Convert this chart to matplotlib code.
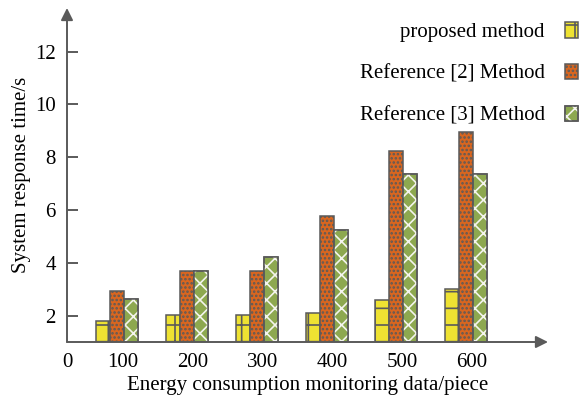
import matplotlib
matplotlib.use('Agg')
import matplotlib.pyplot as plt
import numpy as np
from matplotlib.legend_handler import HandlerTuple

plt.rcParams['font.family'] = ['Liberation Serif', 'DejaVu Serif']
plt.rcParams['hatch.linewidth'] = 1.2

# data
categories = ['100', '200', '300', '400', '500', '600']
proposed = [1.78, 2.04, 2.04, 2.10, 2.60, 3.01]
ref2 = [2.95, 3.68, 3.68, 5.79, 8.22, 8.96]
ref3 = [2.62, 3.68, 4.21, 5.26, 7.38, 7.38]
labels = ['proposed method', 'Reference [2] Method', 'Reference [3] Method']

edge = '#5a5a5a'
c_yellow = '#EEE232'
c_orange = '#D9661F'
c_green = '#8DA84F'
fs = 15

fig = plt.figure(figsize=(5.8, 4), dpi=100)
ax = fig.add_axes([67 / 580, 1 - 342 / 400, (548 - 67) / 580, (342 - 8) / 400])

x = np.arange(1, len(categories) + 1)
w = 0.2
base = 1.0

b1 = ax.bar(x - w, np.array(proposed) - base, w, bottom=base, color=c_yellow,
            edgecolor=edge, linewidth=1.1, hatch='+')
b2 = ax.bar(x, np.array(ref2) - base, w, bottom=base, color=c_orange,
            edgecolor=edge, linewidth=1.1, hatch='....')
b3 = ax.bar(x + w, np.array(ref3) - base, w, bottom=base, color=c_green,
            edgecolor=edge, linewidth=1.1)
b3h = ax.bar(x + w, np.array(ref3) - base, w, bottom=base, fill=False,
             edgecolor='#f4f4ee', linewidth=0, hatch='xx')
# outline again on top of the white hatch
b3o = ax.bar(x + w, np.array(ref3) - base, w, bottom=base, fill=False,
             edgecolor=edge, linewidth=1.1)

ax.set_xlim(0.284, 7.17)
ax.set_ylim(base, 13.65)

for s in ['top', 'right', 'left', 'bottom']:
    ax.spines[s].set_visible(False)

# arrow axes
ax.annotate('', xy=(0, 1), xytext=(0, 0), xycoords='axes fraction',
            arrowprops=dict(arrowstyle='-|>', color=edge, lw=1.4,
                            mutation_scale=18, shrinkA=0, shrinkB=0))
ax.annotate('', xy=(1, 0), xytext=(0, 0), xycoords='axes fraction',
            arrowprops=dict(arrowstyle='-|>', color=edge, lw=1.4,
                            mutation_scale=18, shrinkA=0, shrinkB=0))

ax.set_yticks([2, 4, 6, 8, 10, 12])
ax.tick_params(axis='y', direction='in', length=8, width=1.4, color=edge,
               labelsize=fs, pad=8)
ax.set_xticks(list(x + 0.08) + [0.284])
ax.set_xticklabels(categories + ['0'])
ax.tick_params(axis='x', length=0, labelsize=fs, pad=8)

ax.set_xlabel('Energy consumption monitoring data/piece', fontsize=fs, labelpad=3)
ax.set_ylabel('System response time/s', fontsize=fs, labelpad=3)

fig.legend([b1, b2, (b3, b3h, b3o)], labels, loc='upper right',
           bbox_to_anchor=(1.011, 0.965), frameon=False, markerfirst=False,
           fontsize=fs, handlelength=0.65, handleheight=0.75,
           labelspacing=1.05, handletextpad=0.95, borderaxespad=0,
           handler_map={tuple: HandlerTuple(ndivide=1, pad=0)})

fig.savefig('out.png', dpi=100)
